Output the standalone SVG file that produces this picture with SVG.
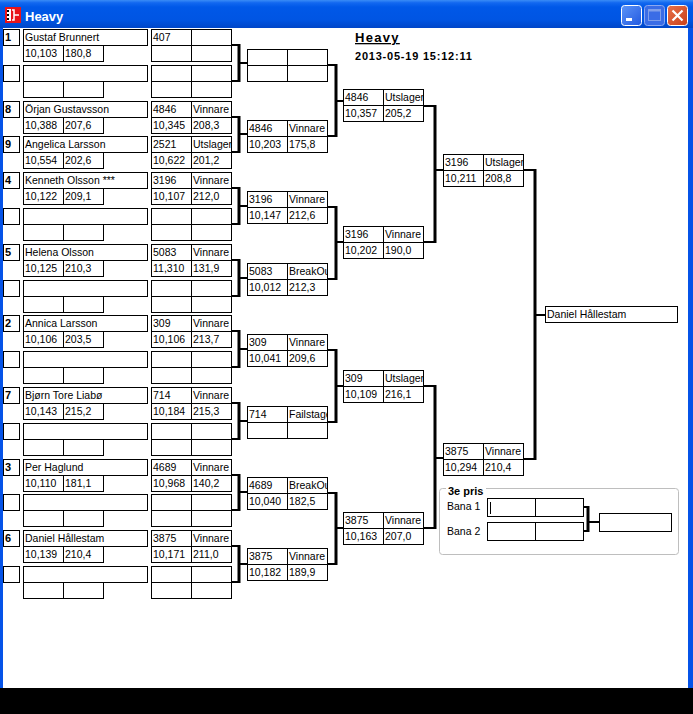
<svg xmlns="http://www.w3.org/2000/svg" xmlns:xlink="http://www.w3.org/1999/xlink" width="693" height="714" viewBox="0 0 693 714">
<style>
.b{fill:#fff;stroke:#000;stroke-width:1}
.t{font-family:"Liberation Sans",Arial,sans-serif;font-size:10.5px;fill:#000}
.sd{font-family:"Liberation Sans",Arial,sans-serif;font-size:11px;font-weight:bold;fill:#000}
.h{fill:none;stroke:#000;stroke-width:2}
.v{fill:none;stroke:#000;stroke-width:3}
</style>
<defs>
<linearGradient id="tb" x1="0" y1="0" x2="0" y2="1">
<stop offset="0" stop-color="#3A8CF6"/><stop offset="0.1" stop-color="#1268F0"/><stop offset="0.25" stop-color="#0058E8"/><stop offset="0.7" stop-color="#0055E3"/><stop offset="1" stop-color="#0046C8"/>
</linearGradient>
<linearGradient id="bt" x1="0" y1="0" x2="1" y2="1">
<stop offset="0" stop-color="#5C94F8"/><stop offset="1" stop-color="#2259E0"/>
</linearGradient>
<linearGradient id="cl" x1="0" y1="0" x2="1" y2="1">
<stop offset="0" stop-color="#E8714A"/><stop offset="1" stop-color="#C9401A"/>
</linearGradient>
<clipPath id="c1"><rect x="191" y="0" width="40" height="714"/></clipPath>
<clipPath id="c2"><rect x="287" y="0" width="40" height="714"/></clipPath>
<clipPath id="c3"><rect x="383" y="0" width="40" height="714"/></clipPath>
<clipPath id="c4"><rect x="483" y="0" width="40" height="714"/></clipPath>
<g id="entry">
<rect class="b" x="3.5" y="0.5" width="16" height="16"/>
<rect class="b" x="23.5" y="0.5" width="124" height="16"/>
<rect class="b" x="23.5" y="16.5" width="40" height="16"/>
<rect class="b" x="63.5" y="16.5" width="40" height="16"/>
</g>
<g id="res">
<rect class="b" x="0.5" y="0.5" width="40" height="16"/>
<rect class="b" x="40.5" y="0.5" width="40" height="16"/>
<rect class="b" x="0.5" y="16.5" width="40" height="16"/>
<rect class="b" x="40.5" y="16.5" width="40" height="16"/>
</g>
</defs>

<g id="window">
<rect x="0" y="0" width="693" height="714" fill="#fff"/>
<rect x="0" y="0" width="693" height="28" fill="url(#tb)"/>
<rect x="0" y="28" width="3" height="660" fill="#0553E8"/>
<rect x="688" y="28" width="5" height="660" fill="#0553E8"/>
<rect x="0" y="688" width="693" height="26" fill="#000"/>
<rect x="5" y="7" width="16" height="16" fill="#E8141A"/>
<rect x="7" y="9" width="4" height="12" fill="#fff"/>
<rect x="7" y="10" width="2" height="2" fill="#000"/>
<rect x="7" y="14" width="2" height="2" fill="#000"/>
<rect x="7" y="18" width="2" height="2" fill="#000"/>
<path d="M12 10H14V20H12M14 15H19" fill="none" stroke="#fff" stroke-width="1.5"/>
<text x="25" y="20.5" font-family="Liberation Sans,Arial,sans-serif" font-size="13" font-weight="bold" fill="#fff">Heavy</text>
<rect x="621.5" y="5.5" width="20" height="20" rx="3" fill="url(#bt)" stroke="#fff"/>
<rect x="626" y="18" width="6" height="3" fill="#fff"/>
<rect x="644.5" y="5.5" width="20" height="20" rx="3" fill="#3A6CE6" stroke="#8CA8F0"/>
<rect x="648.5" y="9.5" width="12" height="11" fill="none" stroke="#7F9EEA"/>
<rect x="648.5" y="9.5" width="12" height="2" fill="#7F9EEA"/>
<rect x="667.5" y="5.5" width="20" height="20" rx="3" fill="url(#cl)" stroke="#fff"/>
<path d="M672.5 10.5L682.5 20.5M682.5 10.5L672.5 20.5" stroke="#fff" stroke-width="2.2"/>
</g>

<g id="header">
<text x="355" y="42" font-family="Liberation Sans,Arial,sans-serif" font-size="13" font-weight="bold" letter-spacing="1.3" text-decoration="underline" fill="#000">Heavy</text>
<text x="355" y="59.5" font-family="Liberation Sans,Arial,sans-serif" font-size="11" font-weight="bold" letter-spacing="0.78" fill="#000">2013-05-19 15:12:11</text>
</g>

<g id="connectors">
<path class="h" d="M231 45H239M231 81H239M239 63H247M231 117H239M231 152H239M239 134H247M231 188H239M231 224H239M239 206H247M231 260H239M231 296H239M239 278H247M231 331H239M231 367H239M239 349H247M231 403H239M231 439H239M239 421H247M231 475H239M231 510H239M239 492H247M231 546H239M231 582H239M239 564H247"/>
<path class="v" d="M239 44V82M239 116V153M239 187V225M239 259V297M239 330V368M239 402V440M239 474V511M239 545V583"/>
<path class="h" d="M327 65H336M327 136H336M336 101H343M327 207H336M327 279H336M336 242H343M327 350H336M327 422H336M336 386H343M327 493H336M327 564H336M336 528H343"/>
<path class="v" d="M336 64V137M336 206V280M336 349V423M336 492V565"/>
<path class="h" d="M423 106H435M423 242H435M435 170H443M423 386H435M423 528H435M435 458H443"/>
<path class="v" d="M435 105V243M435 385V529"/>
<path class="h" d="M523 170H535M523 459H535M535 315H545"/>
<path class="v" d="M535 169V460"/>
<path class="h" d="M583 507H588M583 531H588M588 522H599"/>
<path class="v" d="M588 506V532"/>
</g>

<g id="seed1"><use xlink:href="#entry" y="29"/><text class="sd" x="5" y="40.5">1</text><text class="t" x="25" y="40.5">Gustaf Brunnert</text><text class="t" x="25" y="56.5">10,103</text><text class="t" x="65" y="56.5">180,8</text></g>
<g id="slot1"><use xlink:href="#entry" y="65"/></g>
<g id="seed8"><use xlink:href="#entry" y="101"/><text class="sd" x="5" y="112.5">8</text><text class="t" x="25" y="112.5">Örjan Gustavsson</text><text class="t" x="25" y="128.5">10,388</text><text class="t" x="65" y="128.5">207,6</text></g>
<g id="seed9"><use xlink:href="#entry" y="136"/><text class="sd" x="5" y="147.5">9</text><text class="t" x="25" y="147.5">Angelica Larsson</text><text class="t" x="25" y="163.5">10,554</text><text class="t" x="65" y="163.5">202,6</text></g>
<g id="seed4"><use xlink:href="#entry" y="172"/><text class="sd" x="5" y="183.5">4</text><text class="t" x="25" y="183.5">Kenneth Olsson ***</text><text class="t" x="25" y="199.5">10,122</text><text class="t" x="65" y="199.5">209,1</text></g>
<g id="slot5"><use xlink:href="#entry" y="208"/></g>
<g id="seed5"><use xlink:href="#entry" y="244"/><text class="sd" x="5" y="255.5">5</text><text class="t" x="25" y="255.5">Helena Olsson</text><text class="t" x="25" y="271.5">10,125</text><text class="t" x="65" y="271.5">210,3</text></g>
<g id="slot7"><use xlink:href="#entry" y="280"/></g>
<g id="seed2"><use xlink:href="#entry" y="315"/><text class="sd" x="5" y="326.5">2</text><text class="t" x="25" y="326.5">Annica Larsson</text><text class="t" x="25" y="342.5">10,106</text><text class="t" x="65" y="342.5">203,5</text></g>
<g id="slot9"><use xlink:href="#entry" y="351"/></g>
<g id="seed7"><use xlink:href="#entry" y="387"/><text class="sd" x="5" y="398.5">7</text><text class="t" x="25" y="398.5">Bjørn Tore Liabø</text><text class="t" x="25" y="414.5">10,143</text><text class="t" x="65" y="414.5">215,2</text></g>
<g id="slot11"><use xlink:href="#entry" y="423"/></g>
<g id="seed3"><use xlink:href="#entry" y="459"/><text class="sd" x="5" y="470.5">3</text><text class="t" x="25" y="470.5">Per Haglund</text><text class="t" x="25" y="486.5">10,110</text><text class="t" x="65" y="486.5">181,1</text></g>
<g id="slot13"><use xlink:href="#entry" y="494"/></g>
<g id="seed6"><use xlink:href="#entry" y="530"/><text class="sd" x="5" y="541.5">6</text><text class="t" x="25" y="541.5">Daniel Hållestam</text><text class="t" x="25" y="557.5">10,139</text><text class="t" x="65" y="557.5">210,4</text></g>
<g id="slot15"><use xlink:href="#entry" y="566"/></g>

<g id="r1-0"><use xlink:href="#res" x="151" y="29"/><text class="t" x="153" y="40.5">407</text></g>
<g id="r1-1"><use xlink:href="#res" x="151" y="65"/></g>
<g id="r1-2"><use xlink:href="#res" x="151" y="101"/><text class="t" x="153" y="112.5">4846</text><text class="t" x="193" y="112.5" clip-path="url(#c1)">Vinnare</text><text class="t" x="153" y="128.5">10,345</text><text class="t" x="193" y="128.5">208,3</text></g>
<g id="r1-3"><use xlink:href="#res" x="151" y="136"/><text class="t" x="153" y="147.5">2521</text><text class="t" x="193" y="147.5" clip-path="url(#c1)">Utslager</text><text class="t" x="153" y="163.5">10,622</text><text class="t" x="193" y="163.5">201,2</text></g>
<g id="r1-4"><use xlink:href="#res" x="151" y="172"/><text class="t" x="153" y="183.5">3196</text><text class="t" x="193" y="183.5" clip-path="url(#c1)">Vinnare</text><text class="t" x="153" y="199.5">10,107</text><text class="t" x="193" y="199.5">212,0</text></g>
<g id="r1-5"><use xlink:href="#res" x="151" y="208"/></g>
<g id="r1-6"><use xlink:href="#res" x="151" y="244"/><text class="t" x="153" y="255.5">5083</text><text class="t" x="193" y="255.5" clip-path="url(#c1)">Vinnare</text><text class="t" x="153" y="271.5">11,310</text><text class="t" x="193" y="271.5">131,9</text></g>
<g id="r1-7"><use xlink:href="#res" x="151" y="280"/></g>
<g id="r1-8"><use xlink:href="#res" x="151" y="315"/><text class="t" x="153" y="326.5">309</text><text class="t" x="193" y="326.5" clip-path="url(#c1)">Vinnare</text><text class="t" x="153" y="342.5">10,106</text><text class="t" x="193" y="342.5">213,7</text></g>
<g id="r1-9"><use xlink:href="#res" x="151" y="351"/></g>
<g id="r1-10"><use xlink:href="#res" x="151" y="387"/><text class="t" x="153" y="398.5">714</text><text class="t" x="193" y="398.5" clip-path="url(#c1)">Vinnare</text><text class="t" x="153" y="414.5">10,184</text><text class="t" x="193" y="414.5">215,3</text></g>
<g id="r1-11"><use xlink:href="#res" x="151" y="423"/></g>
<g id="r1-12"><use xlink:href="#res" x="151" y="459"/><text class="t" x="153" y="470.5">4689</text><text class="t" x="193" y="470.5" clip-path="url(#c1)">Vinnare</text><text class="t" x="153" y="486.5">10,968</text><text class="t" x="193" y="486.5">140,2</text></g>
<g id="r1-13"><use xlink:href="#res" x="151" y="494"/></g>
<g id="r1-14"><use xlink:href="#res" x="151" y="530"/><text class="t" x="153" y="541.5">3875</text><text class="t" x="193" y="541.5" clip-path="url(#c1)">Vinnare</text><text class="t" x="153" y="557.5">10,171</text><text class="t" x="193" y="557.5">211,0</text></g>
<g id="r1-15"><use xlink:href="#res" x="151" y="566"/></g>

<g id="r2-0"><use xlink:href="#res" x="247" y="49"/></g>
<g id="r2-1"><use xlink:href="#res" x="247" y="120"/><text class="t" x="249" y="131.5">4846</text><text class="t" x="289" y="131.5" clip-path="url(#c2)">Vinnare</text><text class="t" x="249" y="147.5">10,203</text><text class="t" x="289" y="147.5">175,8</text></g>
<g id="r2-2"><use xlink:href="#res" x="247" y="191"/><text class="t" x="249" y="202.5">3196</text><text class="t" x="289" y="202.5" clip-path="url(#c2)">Vinnare</text><text class="t" x="249" y="218.5">10,147</text><text class="t" x="289" y="218.5">212,6</text></g>
<g id="r2-3"><use xlink:href="#res" x="247" y="263"/><text class="t" x="249" y="274.5">5083</text><text class="t" x="289" y="274.5" clip-path="url(#c2)">BreakOu</text><text class="t" x="249" y="290.5">10,012</text><text class="t" x="289" y="290.5">212,3</text></g>
<g id="r2-4"><use xlink:href="#res" x="247" y="334"/><text class="t" x="249" y="345.5">309</text><text class="t" x="289" y="345.5" clip-path="url(#c2)">Vinnare</text><text class="t" x="249" y="361.5">10,041</text><text class="t" x="289" y="361.5">209,6</text></g>
<g id="r2-5"><use xlink:href="#res" x="247" y="406"/><text class="t" x="249" y="417.5">714</text><text class="t" x="289" y="417.5" clip-path="url(#c2)">Failstage</text></g>
<g id="r2-6"><use xlink:href="#res" x="247" y="477"/><text class="t" x="249" y="488.5">4689</text><text class="t" x="289" y="488.5" clip-path="url(#c2)">BreakOu</text><text class="t" x="249" y="504.5">10,040</text><text class="t" x="289" y="504.5">182,5</text></g>
<g id="r2-7"><use xlink:href="#res" x="247" y="548"/><text class="t" x="249" y="559.5">3875</text><text class="t" x="289" y="559.5" clip-path="url(#c2)">Vinnare</text><text class="t" x="249" y="575.5">10,182</text><text class="t" x="289" y="575.5">189,9</text></g>

<g id="r3-0"><use xlink:href="#res" x="343" y="89"/><text class="t" x="345" y="100.5">4846</text><text class="t" x="385" y="100.5" clip-path="url(#c3)">Utslager</text><text class="t" x="345" y="116.5">10,357</text><text class="t" x="385" y="116.5">205,2</text></g>
<g id="r3-1"><use xlink:href="#res" x="343" y="226"/><text class="t" x="345" y="237.5">3196</text><text class="t" x="385" y="237.5" clip-path="url(#c3)">Vinnare</text><text class="t" x="345" y="253.5">10,202</text><text class="t" x="385" y="253.5">190,0</text></g>
<g id="r3-2"><use xlink:href="#res" x="343" y="370"/><text class="t" x="345" y="381.5">309</text><text class="t" x="385" y="381.5" clip-path="url(#c3)">Utslager</text><text class="t" x="345" y="397.5">10,109</text><text class="t" x="385" y="397.5">216,1</text></g>
<g id="r3-3"><use xlink:href="#res" x="343" y="512"/><text class="t" x="345" y="523.5">3875</text><text class="t" x="385" y="523.5" clip-path="url(#c3)">Vinnare</text><text class="t" x="345" y="539.5">10,163</text><text class="t" x="385" y="539.5">207,0</text></g>

<g id="r4-0"><use xlink:href="#res" x="443" y="154"/><text class="t" x="445" y="165.5">3196</text><text class="t" x="485" y="165.5" clip-path="url(#c4)">Utslager</text><text class="t" x="445" y="181.5">10,211</text><text class="t" x="485" y="181.5">208,8</text></g>
<g id="r4-1"><use xlink:href="#res" x="443" y="443"/><text class="t" x="445" y="454.5">3875</text><text class="t" x="485" y="454.5" clip-path="url(#c4)">Vinnare</text><text class="t" x="445" y="470.5">10,294</text><text class="t" x="485" y="470.5">210,4</text></g>

<g id="winner"><rect class="b" x="545.5" y="306.5" width="132" height="16"/><text class="t" x="547" y="318">Daniel Hållestam</text></g>

<g id="third">
<rect x="439.5" y="488.5" width="239" height="66" rx="3" fill="none" stroke="#BEBEBE"/>
<rect x="446" y="484" width="40" height="8" fill="#fff"/>
<text class="sd" x="448" y="494.5">3e pris</text>
<text class="t" x="447" y="510">Bana 1</text>
<text class="t" x="447" y="535">Bana 2</text>
<g id="bana1"><rect class="b" x="487.5" y="498.5" width="48" height="18"/><rect class="b" x="535.5" y="498.5" width="48" height="18"/><path d="M490.5 502V514" stroke="#000" stroke-width="1"/></g>
<g id="bana2"><rect class="b" x="487.5" y="522.5" width="48" height="18"/><rect class="b" x="535.5" y="522.5" width="48" height="18"/></g>
<g id="third-result"><rect class="b" x="599.5" y="513.5" width="72" height="18"/></g>
</g>
</svg>
